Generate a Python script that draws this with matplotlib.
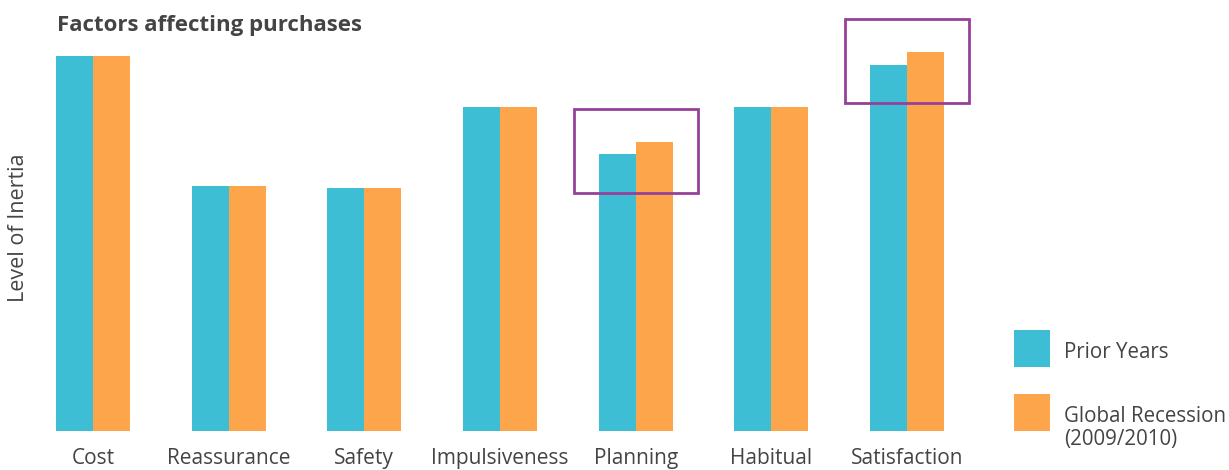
import matplotlib.pyplot as plt
from matplotlib.patches import Rectangle
import numpy as np

plt.rcParams['font.family'] = ['Open Sans', 'DejaVu Sans']

categories = ['Cost', 'Reassurance', 'Safety', 'Impulsiveness', 'Planning', 'Habitual', 'Satisfaction']
prior_years = [375, 245, 243, 324, 277, 324, 366]
recession = [375, 245, 243, 324, 289, 324, 379]
highlighted = ['Planning', 'Satisfaction']

TEAL = '#3dbed5'
ORANGE = '#fda54a'
PURPLE = '#97409a'
TEXT = '#444444'

W, H = 1229, 470
fig = plt.figure(figsize=(W / 100, H / 100), dpi=100)

# axes: baseline at 431 px from the top, full width
ax = fig.add_axes([0, 39 / H, 1, (H - 39) / H])
step = 135.67  # pixels between category centres
ax.set_xlim(-93 / step, (W - 93) / step)
ax.set_ylim(0, H - 39)

x = np.arange(len(categories))
bw = 37 / step
ax.bar(x - bw / 2, prior_years, width=bw, color=TEAL, linewidth=0)
ax.bar(x + bw / 2, recession, width=bw, color=ORANGE, linewidth=0)

# boxes around the categories that changed
half = 62 / step
for name in highlighted:
    i = categories.index(name)
    top = recession[i]
    ax.add_patch(Rectangle((i - half, top - 51), 2 * half, 84, fill=False,
                           edgecolor=PURPLE, linewidth=2, clip_on=False))

ax.set_xticks(x)
ax.set_xticklabels(categories, fontsize=15, color=TEXT)
ax.tick_params(axis='x', length=0, pad=12)
ax.set_yticks([])
for s in ax.spines.values():
    s.set_visible(False)

fig.text(57 / W, 1 - 26 / H, 'Factors affecting purchases', fontsize=16, fontweight='bold',
         color=TEXT, va='center', ha='left')
fig.text(19 / W, 1 - 228 / H, 'Level of Inertia', fontsize=15.5, color=TEXT,
         rotation=90, va='center', ha='center')

# legend
legend_items = [(TEAL, 'Prior Years', 330), (ORANGE, 'Global Recession\n(2009/2010)', 394)]
for color, label, ytop in legend_items:
    fig.add_artist(Rectangle((1014 / W, 1 - (ytop + 37) / H), 36 / W, 37 / H,
                             transform=fig.transFigure, color=color, linewidth=0))
    fig.text(1064 / W, 1 - (ytop + 12) / H, label, fontsize=14.8, color=TEXT,
             va='top', ha='left', linespacing=1.15)

fig.savefig('out.png', dpi=100)
